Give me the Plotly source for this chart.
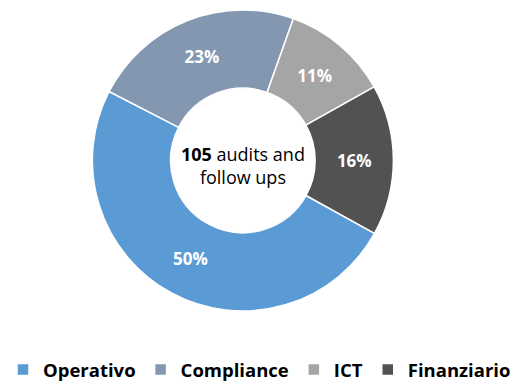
import plotly.graph_objects as go

# audit categories and counts (105 in total)
categories = ['Operativo', 'Compliance', 'ICT', 'Finanziario']
counts = [52, 24, 12, 17]
colors = ['#5B9BD5', '#8497B0', '#A5A5A5', '#525252']
total = sum(counts)

FONT = 'Open Sans'

fig = go.Figure(go.Pie(labels = categories,
                       values = counts,
                       hole = 0.48,
                       sort = False,
                       direction = 'clockwise',
                       rotation = 119,
                       marker = {'colors': colors,
                                 'line': {'color': 'white', 'width': 1.5}},
                       textinfo = 'percent',
                       texttemplate = '%{percent:.0%}',
                       textposition = 'inside',
                       insidetextorientation = 'horizontal',
                       textfont = {'family': FONT, 'size': 17, 'color': 'white', 'weight': 'bold'},
                       domain = {'x': [0.178, 0.758], 'y': [0.188, 0.974]},
                       hoverinfo = 'label+value+percent'))

fig.add_annotation(text = f'<b>{total}</b> audits and<br>follow ups',
                   x = 0.468, y = 0.567,
                   xref = 'paper', yref = 'paper',
                   showarrow = False,
                   font = {'family': FONT, 'size': 18, 'color': 'black'})

fig.update_layout(width = 519,
                  height = 383,
                  paper_bgcolor = 'white',
                  plot_bgcolor = 'white',
                  showlegend = True,
                  legend = {'orientation': 'h',
                            'x': 0.5, 'xanchor': 'center',
                            'y': 0.034, 'yanchor': 'middle',
                            'font': {'family': FONT, 'size': 18.5, 'color': 'black', 'weight': 'bold'},
                            'itemwidth': 30,
                            'traceorder': 'normal'},
                  # keep the legend from pushing the margins (and shrinking the donut)
                  margin = {'l': 0, 'r': 0, 't': 0, 'b': 0, 'autoexpand': False})

# drop the browser's default body margin so the figure sits at the window's corner
fig.write_html("out.html",
               config = {'displayModeBar': False},
               post_script = "document.body.style.margin = '0';")
